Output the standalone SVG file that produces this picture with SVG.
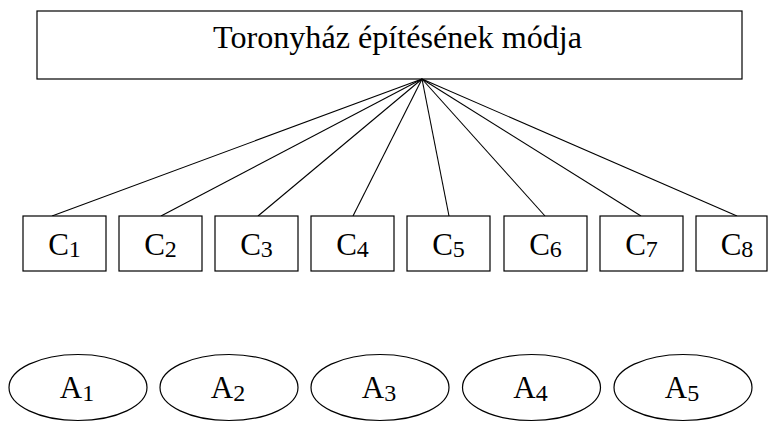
<svg xmlns="http://www.w3.org/2000/svg" width="768" height="422" viewBox="0 0 768 422">
<style>
.box{fill:#fff;stroke:#000;stroke-width:1.2}
.lbl{font-family:"Liberation Serif","Times New Roman",serif;fill:#000}
.big{font-size:32px}
.cl{font-size:31px}
.sub{font-size:24px}
.con line{stroke:#000;stroke-width:1.1}
</style>
<rect width="768" height="422" fill="#fff"/>
<g id="root">
<rect class="box" x="37" y="11" width="705" height="68"/>
<text class="lbl big" x="213" y="48" textLength="369" lengthAdjust="spacingAndGlyphs">Toronyház építésének módja</text>
</g>
<g id="connectors" class="con">
<line x1="422" y1="79" x2="52" y2="216"/>
<line x1="422" y1="79" x2="161" y2="216"/>
<line x1="422" y1="79" x2="258" y2="216"/>
<line x1="422" y1="79" x2="353" y2="216"/>
<line x1="422" y1="79" x2="449" y2="216"/>
<line x1="422" y1="79" x2="545" y2="216"/>
<line x1="422" y1="79" x2="641" y2="216"/>
<line x1="422" y1="79" x2="737" y2="216"/>
</g>
<g id="C1"><rect class="box" x="23" y="216" width="83" height="55"/><text class="lbl cl" x="64.5" y="255" text-anchor="middle">C<tspan class="sub" dy="2">1</tspan></text></g>
<g id="C2"><rect class="box" x="119" y="216" width="83" height="55"/><text class="lbl cl" x="160.5" y="255" text-anchor="middle">C<tspan class="sub" dy="2">2</tspan></text></g>
<g id="C3"><rect class="box" x="215" y="216" width="83" height="55"/><text class="lbl cl" x="256.5" y="255" text-anchor="middle">C<tspan class="sub" dy="2">3</tspan></text></g>
<g id="C4"><rect class="box" x="311" y="216" width="83" height="55"/><text class="lbl cl" x="352.5" y="255" text-anchor="middle">C<tspan class="sub" dy="2">4</tspan></text></g>
<g id="C5"><rect class="box" x="407" y="216" width="83" height="55"/><text class="lbl cl" x="448.5" y="255" text-anchor="middle">C<tspan class="sub" dy="2">5</tspan></text></g>
<g id="C6"><rect class="box" x="504" y="216" width="83" height="55"/><text class="lbl cl" x="545.5" y="255" text-anchor="middle">C<tspan class="sub" dy="2">6</tspan></text></g>
<g id="C7"><rect class="box" x="600" y="216" width="83" height="55"/><text class="lbl cl" x="641.5" y="255" text-anchor="middle">C<tspan class="sub" dy="2">7</tspan></text></g>
<g id="C8"><rect class="box" x="696" y="216" width="71" height="55"/><text class="lbl cl" x="737" y="255" text-anchor="middle">C<tspan class="sub" dy="2">8</tspan></text></g>
<g id="A1"><ellipse class="box" cx="78" cy="387.5" rx="69" ry="33"/><text class="lbl cl" x="77" y="398" text-anchor="middle">A<tspan class="sub" dy="3">1</tspan></text></g>
<g id="A2"><ellipse class="box" cx="229" cy="387.5" rx="69" ry="33"/><text class="lbl cl" x="228" y="398" text-anchor="middle">A<tspan class="sub" dy="3">2</tspan></text></g>
<g id="A3"><ellipse class="box" cx="380" cy="387.5" rx="69" ry="33"/><text class="lbl cl" x="379" y="398" text-anchor="middle">A<tspan class="sub" dy="3">3</tspan></text></g>
<g id="A4"><ellipse class="box" cx="531.5" cy="387.5" rx="69" ry="33"/><text class="lbl cl" x="530.5" y="398" text-anchor="middle">A<tspan class="sub" dy="3">4</tspan></text></g>
<g id="A5"><ellipse class="box" cx="683" cy="387.5" rx="69" ry="33"/><text class="lbl cl" x="682" y="398" text-anchor="middle">A<tspan class="sub" dy="3">5</tspan></text></g>
</svg>
